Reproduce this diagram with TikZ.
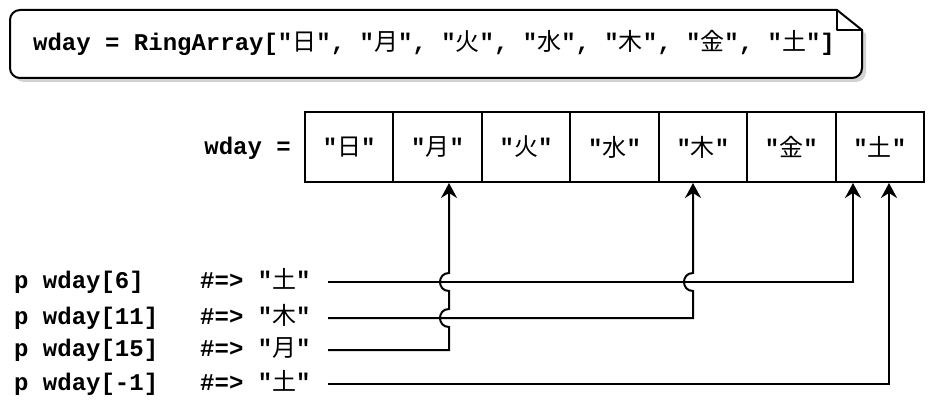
\documentclass[tikz,border=0pt]{standalone}
\usepackage{fontspec}
\setmonofont{Liberation Mono}
\newfontfamily\cjkfont{Noto Sans CJK JP}
\usetikzlibrary{arrows.meta,calc}
\newcommand{\cj}[1]{{\cjkfont\mdseries #1}}
\begin{document}
\begin{tikzpicture}[x=1pt,y=-1pt,
  mono/.style={font=\ttfamily\bfseries\fontsize{24}{28}\selectfont, inner sep=0pt},
  cell/.style={draw, line width=2pt, minimum width=88.43pt, minimum height=70pt, inner sep=0pt, mono},
  wire/.style={line width=2pt, line join=miter},
  tip/.style={-{Stealth[length=15pt,width=16pt,inset=5pt]}}]
\useasboundingbox (0,0) rectangle (932,401);
% note with folded corner and shadow
\fill[gray!35] (24,14) -- (841,14) -- (866,34) -- (866,72) arc[start angle=0,end angle=90,radius=10] -- (24,82) arc[start angle=90,end angle=180,radius=10] -- (14,24) arc[start angle=180,end angle=270,radius=10] -- cycle;
\draw[line width=2pt, fill=white, line join=round] (20,10) -- (837,10) -- (862,30) -- (862,68) arc[start angle=0,end angle=90,radius=10] -- (20,78) arc[start angle=90,end angle=180,radius=10] -- (10,20) arc[start angle=180,end angle=270,radius=10] -- cycle;
\draw[line width=2pt, line join=round] (837,10) -- (837,30) -- (862,30);
\node[mono, anchor=base west] (code) at (33,51) {wday = RingArray["\cj{日}", "\cj{月}", "\cj{火}", "\cj{水}", "\cj{木}", "\cj{金}", "\cj{土}"]};
% array
\node[mono, anchor=base east] (lbl) at (291,154) {wday =};
\foreach \i/\c in {0/日,1/月,2/火,3/水,4/木,5/金,6/土}{
  \node[cell] (c\i) at ({305+88.43*(\i+0.5)},147) {"\cj{\c}"};
}
% left labels
\node[mono, anchor=base west] (p6)  at (14,288.5) {p wday[6]};
\node[mono, anchor=base west] (p11) at (14,324.5) {p wday[11]};
\node[mono, anchor=base west] (p15) at (14,356.5) {p wday[15]};
\node[mono, anchor=base west] (p1)  at (14,390.5) {p wday[-1]};
\node[mono, anchor=base west] (r6)  at (200,288.5) {\#=> "\cj{土}"};
\node[mono, anchor=base west] (r11) at (200,324.5) {\#=> "\cj{木}"};
\node[mono, anchor=base west] (r15) at (200,356.5) {\#=> "\cj{月}"};
\node[mono, anchor=base west] (r1)  at (200,390.5) {\#=> "\cj{土}"};
% connector start points and turning points
\coordinate (s6) at (328,282);
\coordinate (s11) at (328,318);
\coordinate (s15) at (328,350);
\coordinate (s1) at (328,384);
\coordinate (t6) at (853,282);
\coordinate (t11) at (693,318);
\coordinate (t15) at (449,350);
\coordinate (t1) at (889,384);
% connectors
\draw[wire,tip] (s6) -- (t6) -- (t6 |- c6.south);
\draw[wire,tip] (s11) -- (t11) -- (693,291) .. controls (681,291) and (681,273) .. (693,273) -- (t11 |- c4.south);
\draw[wire,tip] (s15) -- (t15) -- (449,327) .. controls (437,327) and (437,309) .. (449,309) -- (449,291) .. controls (437,291) and (437,273) .. (449,273) -- (t15 |- c1.south);
\draw[wire,tip] (s1) -- (t1) -- (t1 |- c6.south);
\end{tikzpicture}
\end{document}
